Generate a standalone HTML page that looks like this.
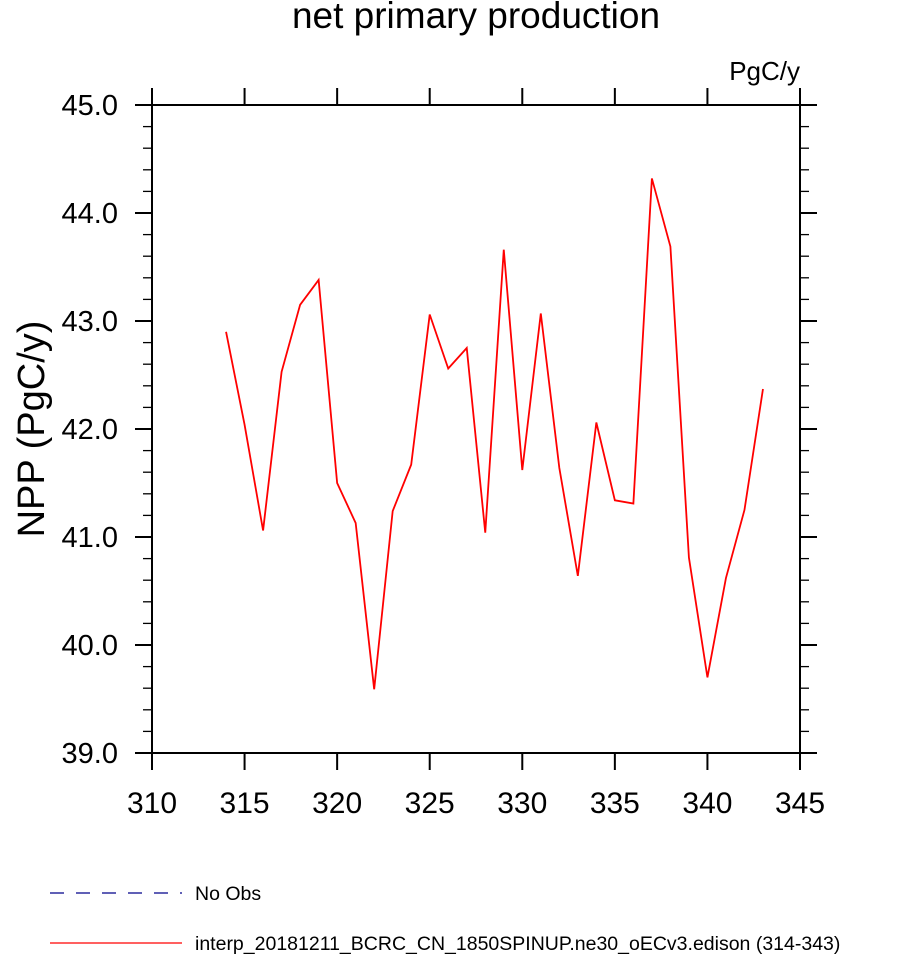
<!DOCTYPE html>
<html><head><meta charset="utf-8"><style>
body{margin:0;background:#fff;font-family:"Liberation Sans",Arial,sans-serif;}
</style></head><body>
<svg id="chart" width="898" height="958" xmlns="http://www.w3.org/2000/svg" font-family="Liberation Sans, Arial, sans-serif">
<text x="476" y="28" font-size="37" text-anchor="middle">net primary production</text>
<text x="800" y="80" font-size="26" text-anchor="end">PgC/y</text>
<text transform="translate(44,429) rotate(-90)" font-size="38" text-anchor="middle">NPP  (PgC/y)</text>
<g id="axes"></g>
<g id="series"></g>
<g>
<line x1="50" y1="893" x2="182" y2="893" stroke="#00008b" stroke-width="1.2" stroke-dasharray="14,12"/>
<text x="195" y="900" font-size="19.5">No Obs</text>
<line x1="50" y1="943" x2="182" y2="943" stroke="#ff0000" stroke-width="1.2"/>
<text x="195" y="950" font-size="19.5">interp_20181211_BCRC_CN_1850SPINUP.ne30_oECv3.edison (314-343)</text>
</g>
</svg>
<script>
const years=[314,315,316,317,318,319,320,321,322,323,324,325,326,327,328,329,330,331,332,333,334,335,336,337,338,339,340,341,342,343];
const npp=[42.90,42.04,41.06,42.53,43.15,43.38,41.50,41.13,39.59,41.24,41.67,43.06,42.56,42.75,41.04,43.66,41.62,43.07,41.64,40.64,42.06,41.34,41.31,44.32,43.69,40.81,39.70,40.62,41.25,42.37];
const xTicks=[310,315,320,325,330,335,340,345];
const yTicks=[39,40,41,42,43,44,45];
const L=152,R=800,T=105,B=753,xmin=310,xmax=345,ymin=39,ymax=45;
const X=v=>L+(v-xmin)/(xmax-xmin)*(R-L);
const Y=v=>B-(v-ymin)/(ymax-ymin)*(B-T);
const NS="http://www.w3.org/2000/svg";
const ax=document.getElementById('axes');
function mk(tag,attrs,parent){const e=document.createElementNS(NS,tag);for(const k in attrs)e.setAttribute(k,attrs[k]);parent.appendChild(e);return e;}
const fr=mk('rect',{x:L,y:T,width:R-L,height:B-T,fill:'none',stroke:'#000','stroke-width':2},ax);


xTicks.forEach(v=>{
 const t1=mk('line',{x1:X(v),x2:X(v),y1:B,y2:B+17,stroke:'#000','stroke-width':2},ax);
 
 
 const t2=mk('line',{x1:X(v),x2:X(v),y1:T,y2:T-17,stroke:'#000','stroke-width':2},ax);
 
 
 const tx=mk('text',{x:X(v),y:813,'font-size':30,'text-anchor':'middle'},ax);tx.textContent=v;
 
 
});
for(let i=0;i<=30;i++){
 const v=ymin+i*0.2,major=i%5===0,len=major?17:9;
 [[L,-1],[R,1]].forEach(([x0,d])=>{
  const t=mk('line',{x1:x0,x2:x0+d*len,y1:Y(v),y2:Y(v),stroke:'#000','stroke-width':major?2:1.3},ax);
  
  
 });
}
yTicks.forEach(v=>{
 const tx=mk('text',{x:118,y:Y(v)+10,'font-size':29,'text-anchor':'end'},ax);tx.textContent=v.toFixed(1);
 
 
});
const s=document.getElementById('series');
const p=mk('polyline',{points:years.map((y,i)=>X(y)+','+Y(npp[i])).join(' '),fill:'none',stroke:'#ff0000','stroke-width':1.8},s);


</script>
</body></html>
